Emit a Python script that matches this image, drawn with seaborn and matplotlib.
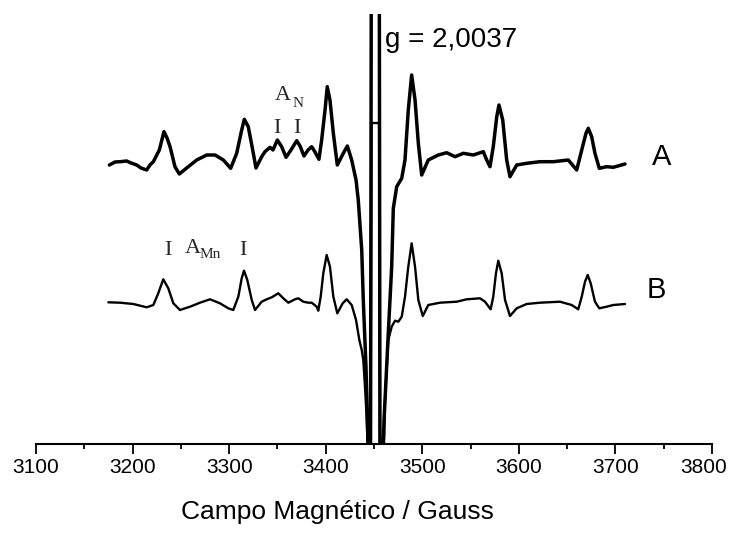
import matplotlib
matplotlib.use("Agg")
import matplotlib.pyplot as plt
import seaborn as sns
import pandas as pd
from matplotlib.ticker import MultipleLocator
from matplotlib.transforms import ScaledTranslation

# ---- data (field in Gauss, derivative signal in arbitrary units relative to baseline) ----
field_A = [3176, 3181.8, 3187, 3193.9, 3198.4, 3204.3, 3208.7, 3214.6, 3218, 3221.5,
           3227.7, 3232.5, 3235.7, 3238.8, 3243.9, 3248.4, 3256, 3266.4, 3276.8, 3285.4,
           3294, 3301.6, 3307.8, 3313, 3315.7, 3319.8, 3324.4, 3327.8, 3333.7, 3337.1,
           3342.3, 3345.4, 3349.9, 3354.4, 3358.9, 3364, 3370, 3373.4, 3377.5, 3381.7,
           3385.5, 3388.9, 3393, 3395.8, 3399.3, 3401.6, 3404.4, 3407.9, 3412, 3418.2,
           3422.4, 3426.9, 3431.4, 3433.7, 3437.3, 3438.9, 3441.7, 3443.5, 3444.3, 3446.4,
           3447.4, 3455.3, 3456.2, 3459.3, 3460.4, 3464.8, 3468.3, 3470, 3473.5, 3478.7,
           3482.1, 3485.5, 3489, 3492.5, 3495.9, 3499.4, 3506.2, 3516.6, 3525.3, 3533.9,
           3542.5, 3552.8, 3563.2, 3566.7, 3570.1, 3573.5, 3577.1, 3579.4, 3583.3, 3587.4,
           3590.8, 3597.8, 3608.1, 3621.9, 3635.7, 3651.2, 3659.9, 3665.1, 3669.5, 3671.9,
           3675.4, 3678.8, 3683.3, 3690.9, 3697.8, 3709.9]
signal_A = [-5, -2, -1.7, -1, -3, -5, -8, -10, -5, -1.7,
            10, 28.3, 22, 13.3, -6.7, -14, -8, 0, 5, 5,
            0, -8.3, 6.7, 30, 40.7, 33.3, 10, -8, 3.3, 8.3,
            12.7, 10, 20, 13.3, 2.7, 10, 19.3, 14, 4, 10,
            13.3, 8, 0.7, 20, 50, 73.3, 60, 26.7, -5, 6.7,
            14, 0, -20, -40, -90, -140, -207, -273, -300, -300,
            320, 320, -300, -300, -260, -173, -107, -48.3, -26.7, -18.3,
            0, 50, 85, 60, 16.7, -15, 0, 5, 7.3, 3.3,
            6.7, 5, 8.3, 0, -6.7, 13.3, 43.3, 55, 40, 0,
            -16.7, -5, -3.3, -1.7, -1.7, 0, -10, 10, 26.7, 31.7,
            23.3, 6.7, -8.3, -6.7, -7.3, -4]

field_B = [3174.9, 3187, 3200.8, 3214.6, 3221.5, 3226.6, 3231.8, 3237, 3242.2, 3249.1,
           3259.5, 3269.8, 3280.2, 3290.5, 3299.1, 3304.3, 3309.5, 3313, 3315.4, 3318.8,
           3323.4, 3326.8, 3333.7, 3338.9, 3344.1, 3350.9, 3356.1, 3361.3, 3368.2, 3371.6,
           3376.8, 3382, 3385.5, 3390.7, 3392.3, 3394.8, 3397.5, 3401, 3404.4, 3407.9,
           3412, 3417.6, 3421.7, 3426.9, 3431.4, 3434.8, 3437.3, 3438.9, 3440.7, 3442.4,
           3443.5, 3444.8, 3446.4, 3447.4, 3455.3, 3456.2, 3459.3, 3461.4, 3464.8, 3468.3,
           3471.8, 3475.2, 3478.7, 3482.1, 3485.5, 3489, 3492.5, 3495.9, 3500.5, 3506.2,
           3518.3, 3535.6, 3546, 3559.8, 3564.9, 3570.8, 3573.5, 3576.3, 3578.7, 3582.2,
           3585.7, 3590.8, 3597.8, 3608.1, 3621.9, 3642.6, 3654.7, 3661.5, 3665.1, 3668.5,
           3671.3, 3674.4, 3678.8, 3683.3, 3690.9, 3697.8, 3709.9]
signal_B = [-0.3, -0.7, -2, -5.3, -3, 8.7, 22.7, 13.7, -1.3, -8,
            -4.7, -0.7, 2.7, -1.3, -6.3, -8, 5.3, 23.7, 31.3, 22,
            2, -8, 0.3, 2.7, 4.7, 8.7, 3.7, -0.7, 2.7, 3.7,
            0.3, -0.7, -0.7, -4.7, -8.7, 5.3, 28.7, 47, 35.3, 5.3,
            -11.3, -1.3, 2.7, -3, -18, -38, -48, -58, -85, -115,
            -145, -170, -170, 179, 179, -170, -170, -98, -38, -24.7,
            -18.7, -19.7, -14.7, 5.3, 35.3, 58.7, 35.3, 2, -14, -3,
            -0.7, 0.3, 2.7, 3.7, 0.3, -7.3, 5.3, 28.7, 41.3, 28.7,
            2, -14, -6.3, -2, -0.7, 0.3, -3, -7.3, 5.3, 20.3,
            27, 18.7, 0.3, -6.3, -4.7, -3, -2]

offset_A = 284
offset_B = 142

x_ticks = [3100, 3200, 3300, 3400, 3500, 3600, 3700, 3800]
x_label = "Campo Magnético / Gauss"
g_label = "g = 2,0037"

# ---- plotting ----
sns.set_theme(style="white")
plt.rcParams['font.family'] = ['Liberation Sans', 'DejaVu Sans']

fig = plt.figure(figsize=(7.30, 5.36), dpi=100)
ax = fig.add_axes([36 / 730, 1 - 444 / 536, 676 / 730, 430 / 536])

dfA = pd.DataFrame({"field": field_A, "y": [v + offset_A for v in signal_A]})
dfB = pd.DataFrame({"field": field_B, "y": [v + offset_B for v in signal_B]})

sns.lineplot(data=dfA, x="field", y="y", ax=ax, sort=False, estimator=None,
             color="black", linewidth=2.5)
sns.lineplot(data=dfB, x="field", y="y", ax=ax, sort=False, estimator=None,
             color="black", linewidth=1.7)

ax.set_xlim(3100, 3800)
ax.set_ylim(0, 430)
for s in ("left", "top", "right"):
    ax.spines[s].set_visible(False)
ax.spines["bottom"].set_linewidth(1.5)
ax.spines["bottom"].set_color("black")
ax.set_yticks([])
ax.set_ylabel("")
ax.set_xticks(x_ticks)
ax.set_xticklabels([str(t) for t in x_ticks])
ax.xaxis.set_minor_locator(MultipleLocator(50))
ax.tick_params(axis="x", which="major", direction="out", length=7, width=1.3,
               colors="black", labelsize=15, pad=3, bottom=True)
ax.tick_params(axis="x", which="minor", direction="out", length=3.5, width=1.3,
               colors="black", bottom=True)
ax.set_xlabel(x_label, fontsize=19, labelpad=12, color="black")
ax.xaxis.set_label_coords((337 - 36) / 676, -0.13)

# keep the last tick label inside the canvas (as in the reference)
last_lab = ax.xaxis.get_major_ticks()[-1].label1
last_lab.set_transform(last_lab.get_transform() +
                       ScaledTranslation(-8 / 100, 0, fig.dpi_scale_trans))

# annotations
ax.text(3461.4, 397, g_label, fontsize=20, ha="left", va="baseline", color="black")
ax.text(3748, 287, "A", fontsize=21, ha="center", va="center", color="black")
ax.text(3742, 154, "B", fontsize=21, ha="center", va="center", color="black")

serif = ['Liberation Serif', 'DejaVu Serif']
ax.text(3347.5, 344, "A", fontsize=16, family=serif, ha="left", va="baseline")
ax.text(3366.1, 337, "N", fontsize=11, family=serif, ha="left", va="baseline")
ax.text(3349.2, 311, "I", fontsize=16, family=serif, ha="center", va="baseline")
ax.text(3369.9, 311, "I", fontsize=16, family=serif, ha="center", va="baseline")

ax.text(3236.4, 189, "I", fontsize=16, family=serif, ha="center", va="baseline")
ax.text(3254.3, 191, "A", fontsize=16, family=serif, ha="left", va="baseline")
ax.text(3269.8, 186, "Mn", fontsize=11, family=serif, ha="left", va="baseline")
ax.text(3314.7, 189, "I", fontsize=16, family=serif, ha="center", va="baseline")

fig.savefig("out.png", dpi=100)
